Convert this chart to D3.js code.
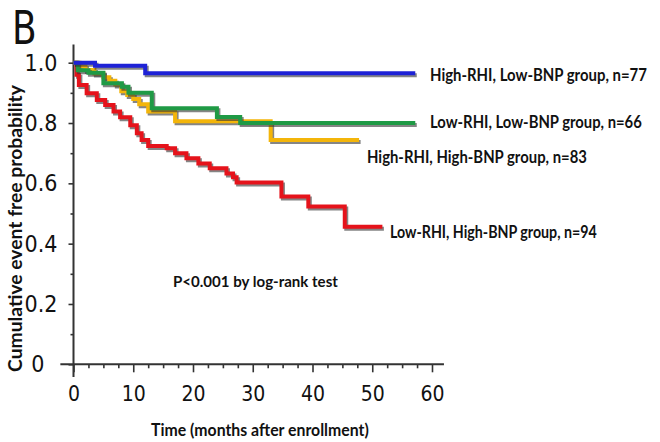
<!DOCTYPE html>
<html>
<head>
<meta charset="utf-8">
<script src="https://cdn.jsdelivr.net/npm/d3@7"></script>
<style>
body { margin: 0; background: #fff; }
</style>
</head>
<body>
<script>
// Kaplan-Meier steps: months after enrollment / event free probability
var hlTime = [0, 3.6, 12, 57.2];
var hlSurv = [1, 0.99, 0.965, 0.965];
var llTime = [0, 0.7, 2.5, 5, 8.1, 9.2, 13.1, 24, 27.9, 57.2];
var llSurv = [1, 0.975, 0.967, 0.932, 0.92, 0.9, 0.849, 0.82, 0.80, 0.80];
var hhTime = [0, 1, 2, 3.5, 5, 6, 7, 8, 9, 10, 11, 12.5, 17, 33, 47.8];
var hhSurv = [1, 0.988, 0.976, 0.964, 0.952, 0.94, 0.928, 0.905, 0.893, 0.88, 0.862, 0.838, 0.806, 0.744, 0.744];
var lhTime = [0, 0.5, 0.9, 2.2, 3.9, 5.3, 6.7, 7.8, 9.5, 10.6, 11.4, 12.5, 15.6, 17, 18.9, 20.9, 22.8, 25.6, 26.7, 27.3, 34.8, 39.3, 45.4, 51.7];
var lhSurv = [1, 0.96, 0.926, 0.899, 0.876, 0.86, 0.838, 0.819, 0.793, 0.766, 0.744, 0.724, 0.716, 0.70, 0.683, 0.666, 0.65, 0.633, 0.62, 0.603, 0.556, 0.523, 0.456, 0.456];

var groupNames = ["Low-RHI, High-BNP group, n=94", "High-RHI, High-BNP group, n=83",
                  "Low-RHI, Low-BNP group, n=66", "High-RHI, Low-BNP group, n=77"];
var groupColors = ["#e5131b", "#f3b50a", "#1f9a45", "#1e22d6"];
var xTicks = [0, 10, 20, 30, 40, 50, 60];
var yTicks = [0, 0.2, 0.4, 0.6, 0.8, 1.0];

var series = [
    { time: lhTime, surv: lhSurv },
    { time: hhTime, surv: hhSurv },
    { time: llTime, surv: llSurv },
    { time: hlTime, surv: hlSurv }
];
// label placement (left x, middle y, width) in pixels
var labelPos = [[390, 232, 207], [367, 157, 220], [430, 122, 212], [430, 75, 217]];

var width = 660, height = 442;
var svg = d3.select("body").append("svg")
    .attr("width", width)
    .attr("height", height);

var x = d3.scaleLinear().domain([0, 60]).range([73.5, 432]);
var y = d3.scaleLinear().domain([0, 1]).range([364.3, 62.7]);

var numFont = "'Liberation Sans Narrow', 'DejaVu Sans Condensed', sans-serif";
var txtFont = "Lato, 'Open Sans', sans-serif";

// scale a text horizontally so it spans the wanted width
function fitText(t, pre, w) {
    var len = t.node().getComputedTextLength();
    t.attr("transform", pre + " scale(" + (w / len) + ",1)");
}

function addText(pre, w, size, str) {
    var t = svg.append("text")
        .attr("dy", "0.35em")
        .attr("font-family", txtFont)
        .attr("font-weight", 700)
        .attr("font-size", size)
        .attr("fill", "#111")
        .text(str);
    fitText(t, pre, w);
    return t;
}

// panel letter
svg.append("text")
    .attr("transform", "translate(12,44) scale(0.85,1)")
    .attr("font-family", numFont)
    .attr("font-size", 47)
    .attr("fill", "#111")
    .text("B");

// x axis
var xMinor = d3.range(0, 62.5, 2.5).filter(function(d) { return d % 10 != 0; });
svg.append("g")
    .attr("transform", "translate(0," + y(0) + ")")
    .call(d3.axisBottom(x).tickValues(xMinor).tickSize(4).tickFormat(""))
    .call(function(g) { g.select(".domain").remove(); });
var gx = svg.append("g")
    .attr("transform", "translate(0," + y(0) + ")")
    .call(d3.axisBottom(x).tickValues(xTicks).tickSize(8).tickPadding(14));
gx.select(".domain").remove();
gx.selectAll("text").attr("font-family", numFont).attr("font-size", 21).attr("fill", "#111");

// y axis
svg.append("g")
    .attr("transform", "translate(" + x(0) + ",0)")
    .call(d3.axisLeft(y).tickValues([0.1, 0.3, 0.5, 0.7, 0.9]).tickSize(3).tickFormat(""))
    .call(function(g) { g.select(".domain").remove(); });
var gy = svg.append("g")
    .attr("transform", "translate(" + x(0) + ",0)")
    .call(d3.axisLeft(y).tickValues(yTicks).tickSize(5).tickPadding(11)
        .tickFormat(function(d) { return d === 0 ? "0" : d3.format(".1f")(d); }));
gy.select(".domain").remove();
gy.selectAll("text").attr("font-family", numFont).attr("font-size", 23).attr("fill", "#111")
    .attr("dx", function(d) { return d === 0 ? -13 : 0; });

svg.selectAll(".tick line").attr("stroke", "#333").attr("stroke-width", 1.6);

// axis lines
svg.append("line")
    .attr("x1", x(-2.2)).attr("x2", x(62))
    .attr("y1", y(0)).attr("y2", y(0))
    .attr("stroke", "#333").attr("stroke-width", 2);
svg.append("line")
    .attr("x1", x(0)).attr("x2", x(0))
    .attr("y1", y(1.06)).attr("y2", y(-0.042))
    .attr("stroke", "#333").attr("stroke-width", 2);

// curves
var line = d3.line()
    .x(function(d) { return x(d[0]); })
    .y(function(d) { return y(d[1]); })
    .curve(d3.curveStepAfter);

series.forEach(function(s, i) {
    var pts = s.time.map(function(t, j) { return [t, s.surv[j]]; });
    svg.append("path")
        .attr("d", line(pts))
        .attr("fill", "none")
        .attr("stroke", "#333")
        .attr("stroke-opacity", 0.6)
        .attr("stroke-width", 4)
        .attr("transform", "translate(1.5,2)");
    svg.append("path")
        .attr("d", line(pts))
        .attr("fill", "none")
        .attr("stroke", groupColors[i])
        .attr("stroke-width", 4);
});

// group labels
groupNames.forEach(function(name, i) {
    var p = labelPos[i];
    addText("translate(" + p[0] + "," + p[1] + ")", p[2], 17, name);
});

addText("translate(173,281)", 165, 16, "P<0.001 by log-rank test");

// axis titles
addText("translate(151,430)", 218, 17, "Time (months after enrollment)");
addText("translate(16,372) rotate(-90)", 287, 18, "Cumulative event free probability");
</script>
</body>
</html>
